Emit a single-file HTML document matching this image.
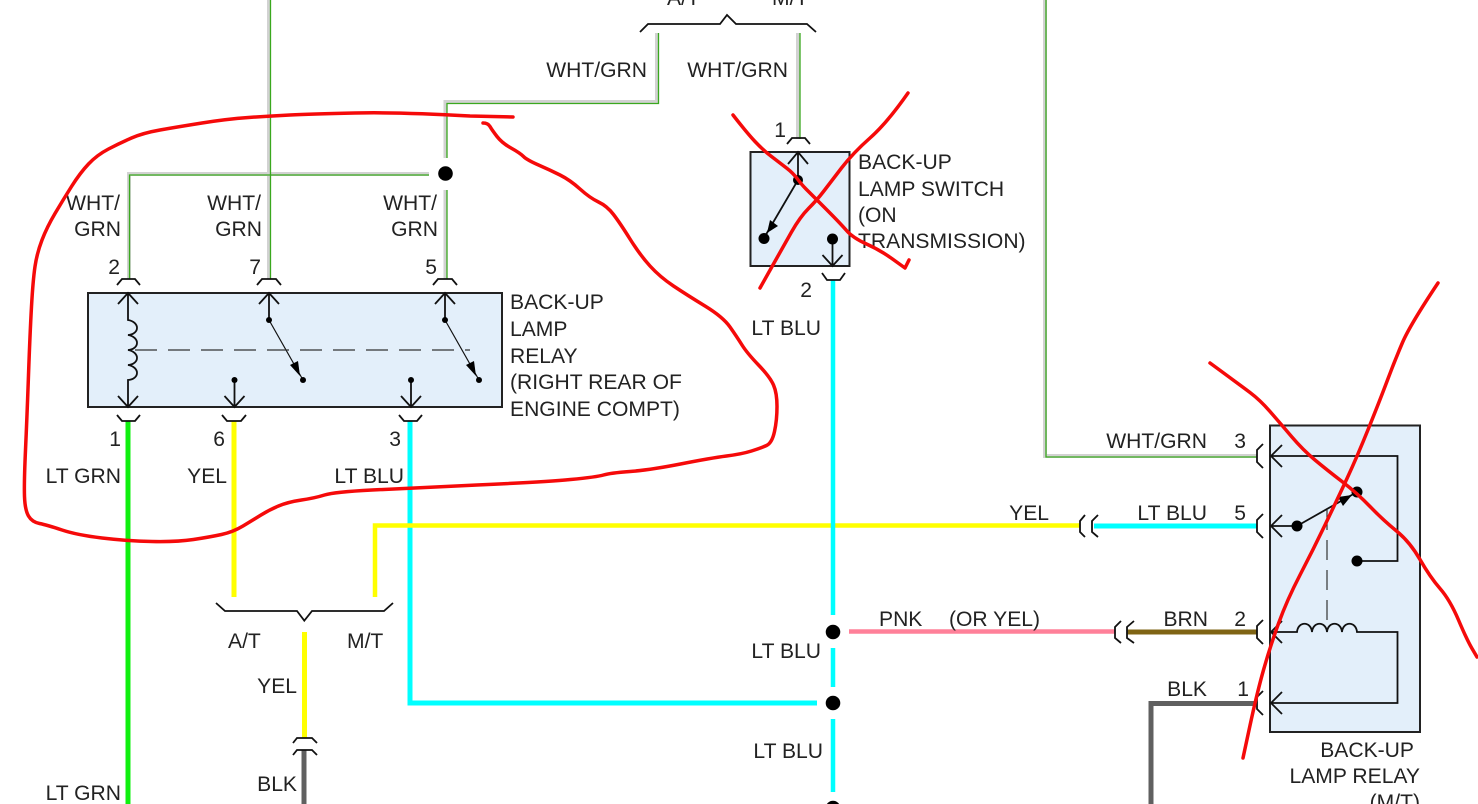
<!DOCTYPE html>
<html lang="en">
<head>
<meta charset="utf-8">
<title>Back-up lamp wiring diagram</title>
<style>
html,body{margin:0;padding:0;background:#fff}
svg{display:block}
text{font-family:"Liberation Sans",sans-serif;font-size:21.1px;fill:#222}
.e{text-anchor:end}
.k{fill:none;stroke:#111;stroke-width:1.8}
.b{fill:#e3effa;stroke:#222;stroke-width:2}
.w{fill:none;stroke-linejoin:miter}
.r{fill:none;stroke:#f50a0a;stroke-width:3.5;stroke-linejoin:round;stroke-linecap:round}
</style>
</head>
<body>
<svg width="1478" height="804" viewBox="0 0 1478 804" xmlns="http://www.w3.org/2000/svg">
<rect width="1478" height="804" fill="#fff"/>

<!-- WHT/GRN wires: gray -->
<g class="w" stroke="#d2d2d2" stroke-width="4">
<path d="M269 0V279"/>
<path d="M129 279V174H429"/>
<path d="M445.500 279V190"/>
<path d="M445.500 158V102H657V33"/>
<path d="M798 33V139"/>
<path d="M1045 0V456H1257"/>
</g>
<!-- WHT/GRN wires: green -->
<g class="w" stroke="#3aa81e" stroke-width="1.300">
<path d="M270.500 0V279"/>
<path d="M129.500 279V175H429"/>
<path d="M447 279V190"/>
<path d="M447 158V103.500H658.500V33"/>
<path d="M800 33V139"/>
<path d="M1046 0V457H1257"/>
</g>

<!-- Colored wires -->
<g class="w" stroke-width="5">
<path d="M128 421V804" stroke="#10f010"/>
<path d="M234 421V597" stroke="#ffff00"/>
<path d="M410 421V703H817" stroke="#00ffff"/>
<path d="M375 597V525.500H1080" stroke="#ffff00" stroke-width="4.500"/>
<path d="M833 280V615M833 648V687M833 719V792" stroke="#00ffff" stroke-width="4.500"/>
<path d="M304.500 632V738" stroke="#ffff00"/>
<path d="M304 750V804" stroke="#606060"/>
<path d="M1094 526H1257" stroke="#00ffff"/>
<path d="M849 631.500H1115" stroke="#ff8099" stroke-width="4.500"/>
<path d="M1127 632H1257" stroke="#7f6414"/>
<path d="M1151 804V703.500H1256" stroke="#606060"/>
</g>

<!-- Component boxes -->
<rect class="b" x="88" y="293" width="414" height="114"/>
<rect class="b" x="750.500" y="152" width="99" height="114"/>
<rect class="b" x="1270" y="425.500" width="150" height="306.500"/>

<!-- Splice dots -->
<g fill="#000">
<circle cx="445.500" cy="173.500" r="7.300"/>
<circle cx="833" cy="632" r="7.300"/>
<circle cx="833" cy="703" r="7.300"/>
<circle cx="833" cy="808" r="7.300"/>
</g>

<!-- Braces -->
<path class="k" d="M216 603L225 611H297L304.300 620.700L312 611H384L393 603"/>
<path class="k" d="M640 32L648 24H720L727 15L736 24H807L816 32"/>

<!-- Connectors -->
<g class="k">
<path d="M117 285L122 279H135L140 285"/>
<path d="M257 285L262 279H276L281 285"/>
<path d="M433 285L438 279H452L457 285"/>
<path d="M787 144L792 138H805L810 144"/>
<path d="M117 415L122 421H135L140 415"/>
<path d="M222 415L227 421H241L246 415"/>
<path d="M399 415L404 421H417L422 415"/>
<path d="M822 273L827 280H840L845 273"/>
<path d="M293 743L297 738H312L317 743"/>
<path d="M293 755L297 750H312L317 755"/>
<path d="M1263 444L1257 450V462L1263 468"/>
<path d="M1263 514L1257 520V532L1263 538"/>
<path d="M1263 620L1257 626V638L1263 644"/>
<path d="M1263 691L1257 697V709L1263 715"/>
<path d="M1085 515L1080 521V532L1085 537"/>
<path d="M1098 515L1092 521V532L1098 537"/>
<path d="M1121 621L1115 627V638L1121 643"/>
<path d="M1134 621L1127 627V638L1134 643"/>
</g>

<!-- Left relay internals -->
<g class="k">
<path d="M118 304L128 293L138 304M128 293V320C140 322 140 334 128 335C140 337 140 349 128 350C140 352 140 364 128 365C140 367 140 379 128 380V407M118 396L128 407L138 396"/>
<path d="M259 304L269 293L279 304M269 293V320"/>
<path d="M435 304L445 293L455 304M445 293V320"/>
<path d="M234.500 380V407M224.500 396L234.500 407L244.500 396"/>
<path d="M411 380V407M401 396L411 407L421 396"/>
</g>
<path d="M269 320L303 380M445 320L479 380" fill="none" stroke="#111" stroke-width="1.200"/>
<path d="M135 350H470" fill="none" stroke="#333" stroke-width="1.200" stroke-dasharray="22 11"/>
<g fill="#000">
<circle cx="269" cy="320" r="3"/>
<circle cx="445" cy="320" r="3"/>
<circle cx="303" cy="380" r="3"/>
<circle cx="479" cy="380" r="3"/>
<circle cx="234.500" cy="380" r="3"/>
<circle cx="411" cy="380" r="3"/>
<path d="M300 376L290 365L298 361Z"/>
<path d="M476 376L466 365L474 361Z"/>
</g>

<!-- Back-up lamp switch internals -->
<g class="k">
<path d="M788 164L798 152L808 164M798 152V180L764 238"/>
<path d="M832.500 239V266M822.500 255L832.500 266L842.500 255"/>
</g>
<g fill="#000">
<circle cx="798" cy="180" r="5"/>
<circle cx="764" cy="238.500" r="5.500"/>
<circle cx="832.500" cy="239" r="5.500"/>
<path d="M767 233L770 220L778 226Z"/>
</g>

<!-- Right relay internals -->
<g class="k">
<path d="M1282 445L1271 456L1282 467M1271 456H1397.500V561H1357"/>
<path d="M1282 515L1271 526L1282 537M1271 526H1297L1357 492"/>
<path d="M1282 621L1271 632L1282 643M1271 632H1297C1298 621 1311 621 1312 632C1313 621 1326 621 1327 632C1328 621 1341 621 1342 632C1343 621 1356 621 1357 632H1397.500V703H1271M1282 692L1271 703L1282 714"/>
</g>
<path d="M1327 510V630" fill="none" stroke="#333" stroke-width="1.200" stroke-dasharray="20 10"/>
<g fill="#000">
<circle cx="1297" cy="526" r="5.500"/>
<circle cx="1357" cy="492" r="5.500"/>
<circle cx="1357" cy="561" r="5.500"/>
<path d="M1352 495L1338 497L1343 506Z"/>
</g>

<!-- Labels -->
<text class="e" x="647" y="77">WHT/GRN</text>
<text class="e" x="788" y="77">WHT/GRN</text>
<text x="667" y="5">A/T</text>
<text x="772" y="5">M/T</text>
<text class="e" x="120" y="210">WHT/</text>
<text class="e" x="121" y="236">GRN</text>
<text class="e" x="261" y="210">WHT/</text>
<text class="e" x="262" y="236">GRN</text>
<text class="e" x="437" y="210">WHT/</text>
<text class="e" x="438" y="236">GRN</text>
<text class="e" x="120" y="274">2</text>
<text class="e" x="261" y="274">7</text>
<text class="e" x="437" y="274">5</text>
<text class="e" x="786" y="137">1</text>
<text x="510" y="309">BACK-UP</text>
<text x="510" y="336">LAMP</text>
<text x="510" y="363">RELAY</text>
<text x="510" y="389">(RIGHT REAR OF</text>
<text x="510" y="416">ENGINE COMPT)</text>
<text x="858" y="169">BACK-UP</text>
<text x="858" y="196">LAMP SWITCH</text>
<text x="858" y="222">(ON</text>
<text x="858" y="248">TRANSMISSION)</text>
<text class="e" x="121" y="446">1</text>
<text class="e" x="225" y="446">6</text>
<text class="e" x="401" y="446">3</text>
<text class="e" x="812" y="297">2</text>
<text class="e" x="121" y="483">LT GRN</text>
<text class="e" x="227" y="483">YEL</text>
<text class="e" x="404" y="483">LT BLU</text>
<text class="e" x="821" y="335">LT BLU</text>
<text class="e" x="821" y="658">LT BLU</text>
<text class="e" x="823" y="758">LT BLU</text>
<text x="228" y="648">A/T</text>
<text x="347" y="648">M/T</text>
<text class="e" x="297" y="693">YEL</text>
<text class="e" x="297" y="791">BLK</text>
<text class="e" x="121" y="800">LT GRN</text>
<text class="e" x="1207" y="448">WHT/GRN</text>
<text class="e" x="1246" y="448">3</text>
<text class="e" x="1049" y="520">YEL</text>
<text class="e" x="1207" y="520">LT BLU</text>
<text class="e" x="1246" y="520">5</text>
<text x="879" y="626">PNK</text>
<text x="949" y="626">(OR YEL)</text>
<text class="e" x="1208" y="626">BRN</text>
<text class="e" x="1246" y="626">2</text>
<text class="e" x="1207" y="696">BLK</text>
<text class="e" x="1249" y="696">1</text>
<text class="e" x="1414" y="757">BACK-UP</text>
<text class="e" x="1420" y="783">LAMP RELAY</text>
<text class="e" x="1420" y="809">(M/T)</text>

<!-- Red hand-drawn marks -->
<path class="r" d="M513 117L470 116Q400 112 355 113Q310 114 290 115Q270 116 248.500 117.500Q227 119 202 123Q177 127 160 130Q143 133 131.500 138Q120 143 108.500 149Q97 155 88.500 164Q80 173 71.500 186.500Q63 200 55 213.500Q47 227 42 240Q37 253 35 266.500Q33 280 31.500 306.500Q30 333 28.500 375Q27 417 25.500 450Q24 483 24.500 496.500Q25 510 28.500 516Q32 522 39.500 523.500Q47 525 62 530Q77 535 102 538Q127 541 152 541.500Q177 542 193.500 539.500Q210 537 221.500 534.500Q233 532 243 526Q253 520 261 515Q269 510 278.500 506Q288 502 301.500 500Q315 498 324.500 495Q334 492 372 490Q410 488 477 485Q544 482 570.500 479.500Q597 477 603.500 475Q610 473 630 471.500Q650 470 680.500 464Q711 458 726.500 456Q742 454 751.500 451Q761 448 766.500 445.500Q772 443 774.500 431.500Q777 420 777 406.500Q777 393 773.500 385Q770 377 758.500 365Q747 353 742 345Q737 337 730 327Q723 317 705 306Q687 295 673.500 286Q660 277 650 266Q640 255 630 239Q620 223 613.500 214.500Q607 206 598.500 202Q590 198 580 189Q570 180 560 175Q550 170 538.500 165Q527 160 523.500 156.500Q520 153 511 148Q502 143 497 136.500Q492 130 490 126.500Q488 123 483 123"/>
<path class="r" d="M733 115Q747 133 755 141.500Q763 150 771.500 156.500Q780 163 786.500 168Q793 173 797.500 179Q802 185 806 189Q810 193 825 208Q840 223 846.500 230.500Q853 238 866.500 244Q880 250 892.500 259L905 268L909 260"/>
<path class="r" d="M908 93Q887 123 870 138Q853 153 841.500 168Q830 183 823.500 191.500Q817 200 808.500 208.500Q800 217 791.500 232Q783 247 771.500 267.500L760 288"/>
<path class="r" d="M1210 363Q1240 385 1250 392.500Q1260 400 1270 411.500Q1280 423 1291.500 436.500Q1303 450 1315 460Q1327 470 1342 481.500Q1357 493 1370 506.500Q1383 520 1396.500 531Q1410 542 1420 559.500Q1430 577 1440 588.500Q1450 600 1458.500 620Q1467 640 1472 648.500L1477 657"/>
<path class="r" d="M1438 283Q1410 325 1402.500 342.500Q1395 360 1387.500 380Q1380 400 1368.500 428.500Q1357 457 1347 478.500Q1337 500 1325 525Q1313 550 1300 575Q1287 600 1278.500 623.500Q1270 647 1263.500 670Q1257 693 1250 725.500L1243 758"/>
</svg>
</body>
</html>
